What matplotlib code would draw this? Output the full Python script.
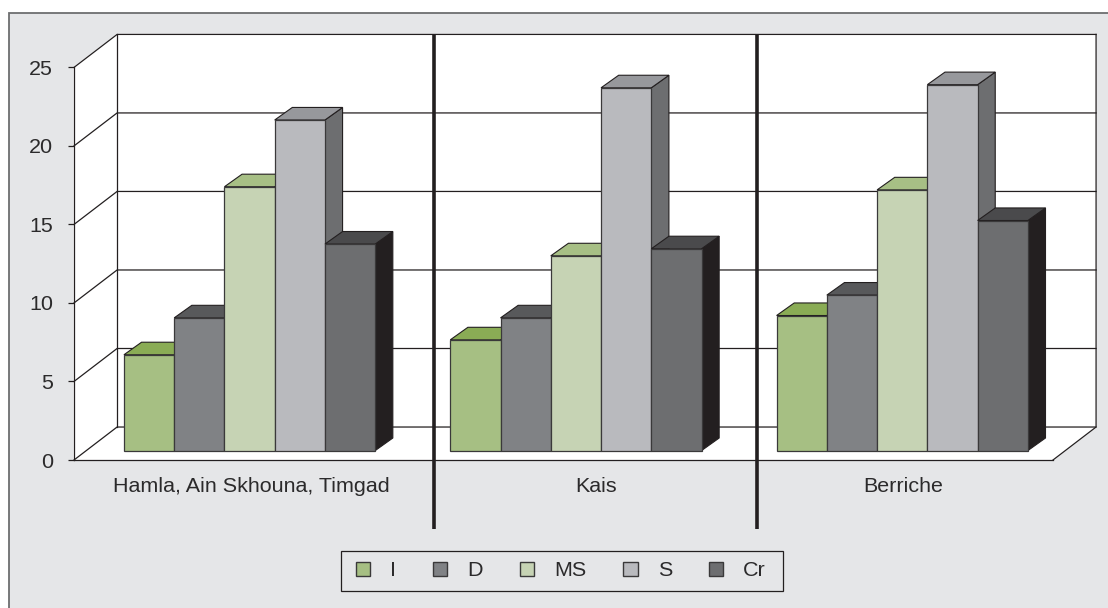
import matplotlib
matplotlib.use('Agg')
import matplotlib.pyplot as plt
from matplotlib.patches import Patch, Rectangle

plt.rcParams['font.family'] = ['Liberation Sans', 'DejaVu Sans']

regions = ['Hamla, Ain Skhouna, Timgad', 'Kais', 'Berriche']
series = ['I', 'D', 'MS', 'S', 'Cr']
values_i = [6.1, 7.05, 8.6]
values_d = [8.45, 8.45, 9.9]
values_ms = [16.8, 12.4, 16.6]
values_s = [21.05, 23.1, 23.3]
values_cr = [13.15, 12.85, 14.65]
yticks = [0, 5, 10, 15, 20, 25]

all_values = [values_i, values_d, values_ms, values_s, values_cr]
front_colors = ['#a6bf83', '#808285', '#c6d3b4', '#b9babe', '#6d6e70']
top_colors = ['#8aac55', '#58595b', '#a7bf85', '#97989c', '#4a4a4c']
side_colors = ['#6f8c45', '#414042', '#8ea56c', '#6d6e70', '#231f20']
ink = '#231f20'
text_color = '#2b2a2b'
font_size = 15.45

# depth of the floor and of each bar, in category and value units
wall_dx, wall_dy = 0.132, 2.1
bar_dx, bar_dy = 0.054, 0.8
bar_width = 0.154
group_start = 0.153
floor_dy = 0.6

fig = plt.figure(figsize=(11.08, 6.08), dpi=100, facecolor='white')
fig.patches.append(Rectangle((8.5 / 1108, -0.01), 1.02, 1 - 12.5 / 608 + 0.01,
                             transform=fig.transFigure, facecolor='#e5e6e8',
                             edgecolor='#6d6e70', linewidth=1.3, zorder=-2))
# legend box, wider than the entries need
fig.patches.append(Rectangle((340.5 / 1108, 1 - 590.5 / 608), 442 / 1108, 40 / 608,
                             transform=fig.transFigure, facecolor='none',
                             edgecolor=ink, linewidth=0.9, zorder=-1))
ax = fig.add_axes([74 / 1108, 148 / 608, 979 / 1108, 392.6 / 608])
ax.patch.set_visible(False)
ax.set_xlim(0, 3)
ax.set_ylim(0, 25)

# white walls and floor behind the bars
ax.fill([0, 3, 3 + wall_dx, 3 + wall_dx, wall_dx, 0],
        [0, 0, wall_dy, 25 + wall_dy, 25 + wall_dy, 25],
        color='white', clip_on=False, zorder=1)
ax.plot([3, 3 + wall_dx, 3 + wall_dx], [0, wall_dy, 25 + wall_dy],
        color=ink, lw=0.9, clip_on=False, zorder=2)
ax.plot([wall_dx, wall_dx], [wall_dy, 25 + wall_dy],
        color=ink, lw=0.9, clip_on=False, zorder=2)
for t in yticks:
    ax.plot([0, wall_dx, 3 + wall_dx], [t, t + wall_dy, t + wall_dy],
            color=ink, lw=0.9, clip_on=False, zorder=2)

# bars, left to right so each front covers the neighbour's side
z = 3
for g in range(len(regions)):
    for s in range(len(series)):
        x0 = g + group_start + s * bar_width
        x1 = x0 + bar_width
        top = floor_dy + all_values[s][g]
        ax.fill([x1, x1 + bar_dx, x1 + bar_dx, x1],
                [floor_dy, floor_dy + bar_dy, top + bar_dy, top],
                facecolor=side_colors[s], edgecolor=ink, lw=0.8, zorder=z)
        ax.fill([x0, x0 + bar_dx, x1 + bar_dx, x1],
                [top, top + bar_dy, top + bar_dy, top],
                facecolor=top_colors[s], edgecolor=ink, lw=0.8, zorder=z)
        ax.bar(x0, all_values[s][g], width=bar_width, bottom=floor_dy, align='edge',
               facecolor=front_colors[s], edgecolor='#3a393a', lw=0.9, zorder=z + 0.5)
        z += 1

# heavy separators between the regions
for xd in [1.102, 2.093]:
    ax.plot([xd, xd], [25 + wall_dy, -4.4], color=ink, lw=2.6, solid_capstyle='butt',
            clip_on=False, zorder=z)

for name in ['top', 'right']:
    ax.spines[name].set_visible(False)
for name in ['left', 'bottom']:
    ax.spines[name].set_color(ink)
    ax.spines[name].set_linewidth(0.9)
    ax.spines[name].set_zorder(2)

ax.set_yticks(yticks)
ax.tick_params(axis='y', length=4, width=0.9, color=ink, pad=11, labelsize=font_size,
               labelcolor=text_color)
ax.set_xticks([0.545, 1.6, 2.54])
ax.set_xticklabels(regions)
ax.tick_params(axis='x', length=0, pad=12, labelsize=font_size, labelcolor=text_color)

handles = [Patch(facecolor=c, edgecolor='#3a393a', lw=1.0) for c in front_colors]
ax.legend(handles, series, ncol=5, loc='center',
          bbox_to_anchor=(561 / 1108, 1 - 571 / 608),
          bbox_transform=fig.transFigure, fontsize=font_size, frameon=False,
          handlelength=0.66, handleheight=0.66, handletextpad=0.94,
          columnspacing=1.72, borderpad=0.5, labelcolor=text_color)

fig.savefig('out.png', dpi=100)
